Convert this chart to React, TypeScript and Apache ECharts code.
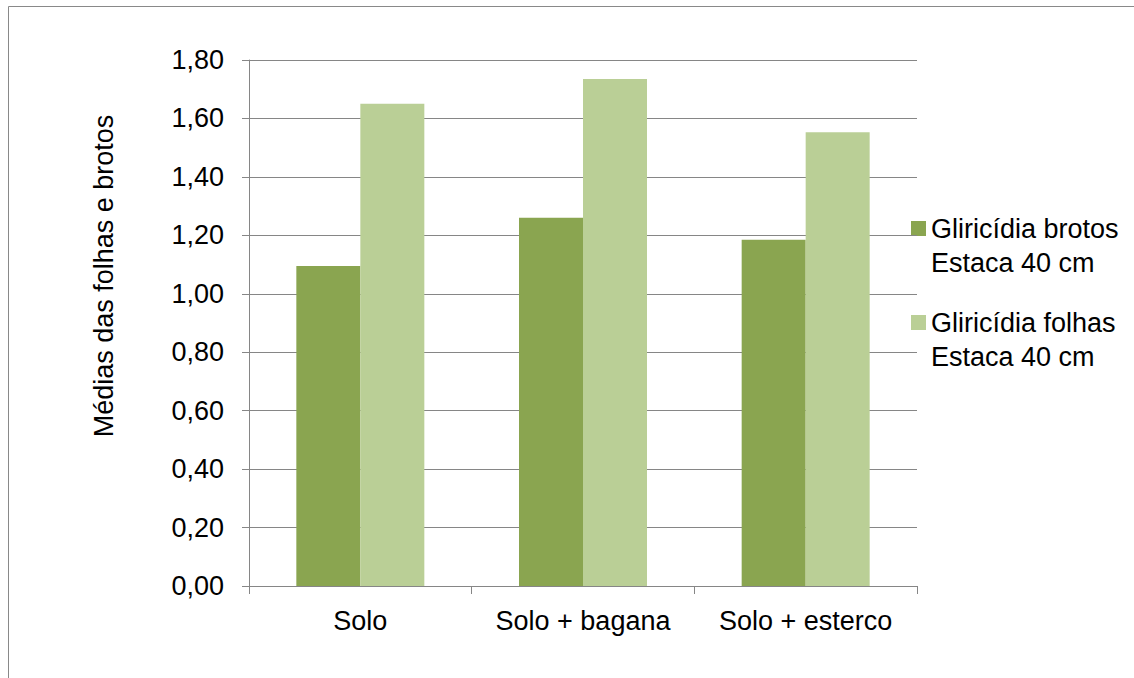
import React, { useEffect, useRef } from "react";
import * as echarts from "echarts";

const categories = ["Solo", "Solo + bagana", "Solo + esterco"];
const brotos = [1.095, 1.26, 1.185];
const folhas = [1.65, 1.735, 1.553];
const seriesNames = ["Gliricídia brotos\nEstaca 40 cm", "Gliricídia folhas\nEstaca 40 cm"];
const colors = ["#8aa550", "#bacf96"];
const yAxisTitle = "Médias das folhas e brotos";

const FONT = "'Liberation Sans', Arial, sans-serif";
const FS = 27;

export default function App() {
  const ref = useRef<HTMLDivElement>(null);
  useEffect(() => {
    if (!ref.current) return;
    const chart = echarts.init(ref.current, null, { renderer: "svg" });
    const legendY = [221, 315];
    chart.setOption({
      animation: false,
      backgroundColor: "#ffffff",
      textStyle: { fontFamily: FONT },
      grid: { left: 249, right: 217, top: 60, bottom: 92, containLabel: false },
      xAxis: {
        type: "category",
        data: categories,
        axisLine: { lineStyle: { color: "#868686", width: 1 } },
        axisTick: { show: true, length: 8, alignWithLabel: false, lineStyle: { color: "#868686" } },
        axisLabel: { color: "#000", fontSize: FS, fontFamily: FONT, margin: 21, interval: 0 },
      },
      yAxis: {
        type: "value",
        min: 0,
        max: 1.8,
        interval: 0.2,
        name: yAxisTitle,
        nameLocation: "middle",
        nameRotate: 90,
        nameGap: 132,
        nameTextStyle: { color: "#000", fontSize: FS, fontFamily: FONT, padding: [0, 0, 0, 94] },
        axisLine: { show: true, lineStyle: { color: "#868686", width: 1 } },
        axisTick: { show: true, length: 7, lineStyle: { color: "#868686" } },
        axisLabel: {
          color: "#000",
          fontSize: FS,
          fontFamily: FONT,
          margin: 25,
          formatter: (v: number) => v.toFixed(2).replace(".", ","),
        },
        splitLine: { show: true, lineStyle: { color: "#868686", width: 1 } },
      },
      series: [
        {
          name: seriesNames[0],
          type: "bar",
          data: brotos,
          barWidth: 64,
          barGap: "0%",
          itemStyle: { color: colors[0] },
        },
        {
          name: seriesNames[1],
          type: "bar",
          data: folhas,
          barWidth: 64,
          barGap: "0%",
          itemStyle: { color: colors[1] },
        },
      ],
      graphic: [
        {
          type: "rect",
          silent: true,
          shape: { x: 8.5, y: 6.5, width: 1300, height: 1000 },
          style: { fill: "none", stroke: "#898989", lineWidth: 1 },
        },
        ...seriesNames.flatMap((name, i) => [
          {
            type: "rect",
            shape: { x: 911, y: legendY[i], width: 15, height: 15 },
            style: { fill: colors[i] },
          },
          {
            type: "text",
            x: 931,
            y: legendY[i] + 7.5 - 16.5,
            style: {
              text: name,
              fill: "#000",
              font: `${FS}px ${FONT}`,
              lineHeight: 34,
              verticalAlign: "top",
              align: "left",
            },
          },
        ]),
      ],
    });
    return () => chart.dispose();
  }, []);
  return (
    <div
      ref={ref}
      style={{ position: "fixed", left: 0, top: 0, width: 1134, height: 678 }}
    />
  );
}
